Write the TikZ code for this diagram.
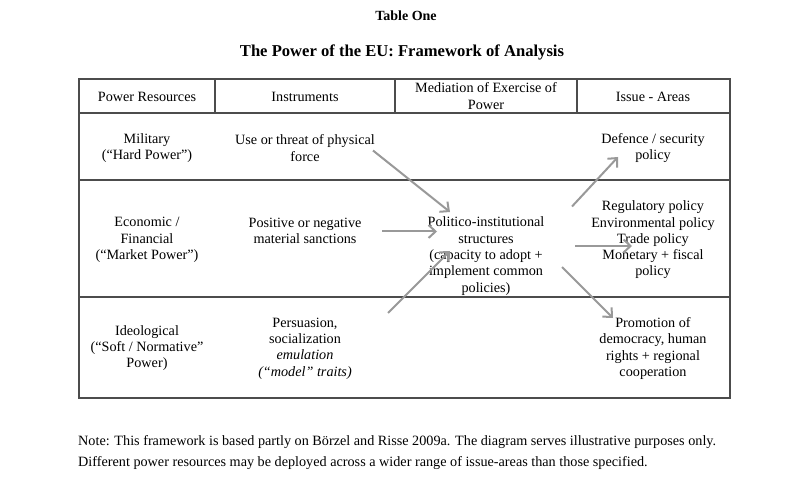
\documentclass[tikz,border=0pt]{standalone}
\usepackage{fontspec}
\setmainfont{Liberation Serif}
\usetikzlibrary{arrows.meta}
\begin{document}
\begin{tikzpicture}[x=1pt,y=-1pt,
  cell/.style={align=center, inner sep=0pt, font=\fontsize{14.2}{16.3}\selectfont},
  rule/.style={draw=black!70, line width=1.1pt},
  arr/.style={draw=black!40, line width=2pt, -{Straight Barb[length=7pt,width=13pt,line width=2pt]}}]
\useasboundingbox (0,0) rectangle (792,494);
\fill[white] (0,0) rectangle (792,494);
% titles
\node[cell, font=\fontsize{14}{16}\selectfont\bfseries] (t1) at (406,16) {Table One};
\node[cell, font=\fontsize{16.6}{19}\selectfont\bfseries] (t2) at (402,52) {The Power of the EU: Framework of Analysis};
% table
\draw[rule] (79,79) rectangle (730,398);
\draw[rule] (79,113) -- (730,113);
\draw[rule] (79,180) -- (730,180);
\draw[rule] (79,297) -- (730,297);
\draw[rule] (215,79) -- (215,113);
\draw[rule] (395,79) -- (395,113);
\draw[rule] (577,79) -- (577,113);
% header
\node[cell] (h1) at (147,97) {Power Resources};
\node[cell] (h2) at (305,97) {Instruments};
\node[cell] (h3) at (486,96) {Mediation of Exercise of\\Power};
\node[cell] (h4) at (653,97) {Issue - Areas};
% row 1
\node[cell] (mil) at (147,148) {Military\\(“Hard Power”)};
\node[cell] (force) at (305,148) {Use or threat of physical\\force};
\node[cell] (def) at (653,148) {Defence / security\\policy};
% row 2
\node[cell] (eco) at (147,240) {Economic /\\Financial\\(“Market Power”)};
\node[cell] (sanc) at (305,231) {Positive or negative\\material sanctions};
\node[cell] (pol) at (486,256) {Politico-institutional\\structures\\(capacity to adopt +\\implement common\\policies)};
\node[cell] (reg) at (653,240) {Regulatory policy\\Environmental policy\\Trade policy\\Monetary + fiscal\\policy};
% row 3
\node[cell] (ideo) at (147,348) {Ideological\\(“Soft / Normative”\\Power)};
\node[cell] (pers) at (305,348.5) {Persuasion,\\socialization\\\itshape emulation\\\itshape (“model” traits)};
\node[cell] (prom) at (653,348.5) {Promotion of\\democracy, human\\rights + regional\\cooperation};
% arrow ends
\coordinate (a1s) at (373,150.5);
\coordinate (a1e) at (450,212);
\coordinate (a2s) at (382,231.5);
\coordinate (a2e) at (437,231.5);
\coordinate (a3s) at (388,313);
\coordinate (a3e) at (450,251);
\coordinate (a4s) at (572,206.5);
\coordinate (a4e) at (618,157);
\coordinate (a5s) at (575,246);
\coordinate (a5e) at (632,246);
\coordinate (a6s) at (562,267);
\coordinate (a6e) at (613,318);
\draw[arr] (a1s) -- (a1e);
\draw[arr] (a2s) -- (a2e);
\draw[arr] (a3s) -- (a3e);
\draw[arr] (a4s) -- (a4e);
\draw[arr] (a5s) -- (a5e);
\draw[arr] (a6s) -- (a6e);
% note
\node[cell, align=left, anchor=west, font=\fontsize{14.2}{21}\selectfont] (note) at (78,452.5) {Note: This framework is based partly on Börzel and Risse 2009a. The diagram serves illustrative purposes only.\\Different power resources may be deployed across a wider range of issue-areas than those specified.};
\end{tikzpicture}
\end{document}
